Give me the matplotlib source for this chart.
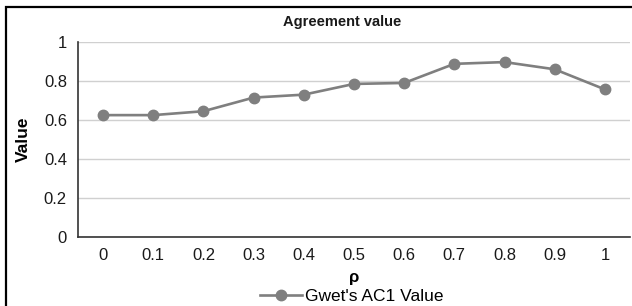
import matplotlib
matplotlib.use("Agg")
import matplotlib.pyplot as plt
from matplotlib.patches import Rectangle

rho_labels = ['0', '0.1', '0.2', '0.3', '0.4', '0.5', '0.6', '0.7', '0.8', '0.9', '1']
ac1_values = [0.625, 0.625, 0.645, 0.715, 0.730, 0.785, 0.790, 0.888, 0.897, 0.860, 0.757]
y_ticks = [0, 0.2, 0.4, 0.6, 0.8, 1]
y_tick_labels = ['0', '0.2', '0.4', '0.6', '0.8', '1']

plt.rcParams['font.family'] = ['Liberation Sans', 'DejaVu Sans']

fig = plt.figure(figsize=(6.32, 3.06), dpi=100)
ax = fig.add_axes([78 / 632, 1 - 237 / 306, 552 / 632, 195 / 306])

x = list(range(len(rho_labels)))
ax.plot(x, ac1_values, color='#7f7f7f', linewidth=1.9, marker='o',
        markersize=7.5, label="Gwet's AC1 Value")

ax.set_xlim(-0.5, len(rho_labels) - 0.5)
ax.set_ylim(0, 1)
ax.set_xticks(x)
ax.set_xticklabels(rho_labels)
ax.set_yticks(y_ticks)
ax.set_yticklabels(y_tick_labels)
ax.tick_params(axis='both', length=0, labelsize=12, colors='#1a1a1a')
ax.tick_params(axis='x', pad=8)
ax.tick_params(axis='y', pad=8)

ax.grid(axis='y', color='#d0d0d0', linewidth=1)
ax.set_axisbelow(True)
for s in ['top', 'right']:
    ax.spines[s].set_visible(False)
ax.spines['left'].set_color('#333333')
ax.spines['bottom'].set_color('#333333')
ax.spines['left'].set_linewidth(1.2)
ax.spines['bottom'].set_linewidth(1.2)

ax.set_xlabel('ρ', fontsize=12, fontweight='bold', labelpad=5)
ax.set_ylabel('Value', fontsize=12.5, fontweight='bold', labelpad=9)
fig.text(342 / 632, 1 - 22 / 306, 'Agreement value', ha='center', va='center',
         fontsize=10.5, fontweight='bold', color='#1a1a1a')

fig.legend(loc='center', bbox_to_anchor=(352 / 632, 1 - 296 / 306), frameon=False,
           fontsize=12.5, handlelength=2.4, borderpad=0, handletextpad=0.2)

# outer frame (right and bottom edges cropped off in the original)
fig.patches.append(Rectangle((6 / 632, -0.1), 1.2, 1 - 7 / 306 + 0.1,
                             transform=fig.transFigure, fill=False,
                             edgecolor='black', linewidth=1.6))

fig.savefig('out.png', dpi=100)
